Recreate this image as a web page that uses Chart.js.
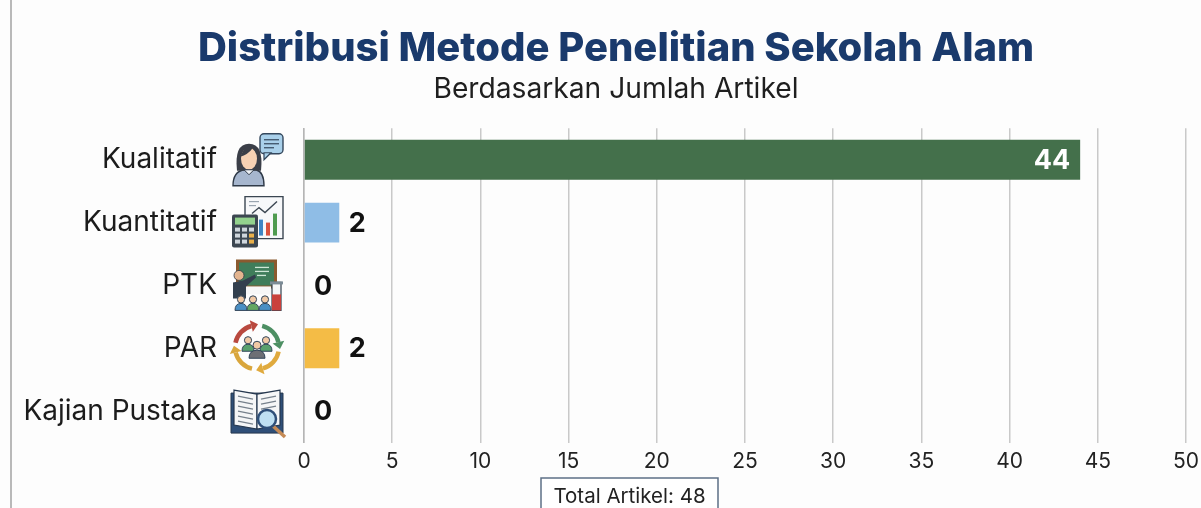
<!DOCTYPE html>
<html><head><meta charset="utf-8">
<style>html,body{margin:0;padding:0;background:#fdfdfd;overflow:hidden}#wrap{width:1201px;height:508px;position:relative}</style>
<script src="https://cdn.jsdelivr.net/npm/chart.js@4/dist/chart.umd.min.js"></script>
</head><body><div id="wrap"><canvas id="c" width="1201" height="508"></canvas></div>
<script>
const categories = ["Kualitatif","Kuantitatif","PTK","PAR","Kajian Pustaka"];
const articleCounts = [44,2,0,2,0];
const barColors = ["#44704b","#8fbde6","#8fbde6","#f4bc46","#8fbde6"];
const xTicks = [0,5,10,15,20,25,30,35,40,45,50];
const titleText = "Distribusi Metode Penelitian Sekolah Alam";
const subtitleText = "Berdasarkan Jumlah Artikel";
const totalText = "Total Artikel: 48";
const FONT = "Inter, 'Open Sans', sans-serif";

function R(c,x,y,w,h,f,s,lw){c.beginPath();c.rect(x,y,w,h);if(f){c.fillStyle=f;c.fill();}if(s){c.strokeStyle=s;c.lineWidth=lw||1;c.stroke();}}
function C(c,x,y,r,f,s,lw){c.beginPath();c.arc(x,y,r,0,Math.PI*2);if(f){c.fillStyle=f;c.fill();}if(s){c.strokeStyle=s;c.lineWidth=lw||1;c.stroke();}}
function L(c,p,s,lw){c.beginPath();p.forEach((q,i)=>i?c.lineTo(q[0],q[1]):c.moveTo(q[0],q[1]));c.strokeStyle=s;c.lineWidth=lw||1;c.stroke();}
function P(c,p,f,s,lw){c.beginPath();p.forEach((q,i)=>i?c.lineTo(q[0],q[1]):c.moveTo(q[0],q[1]));c.closePath();if(f){c.fillStyle=f;c.fill();}if(s){c.strokeStyle=s;c.lineWidth=lw||1;c.stroke();}}
function person(c,x,y,col){C(c,x,y,3.6,"#f1c9a5","#33465a",1);c.beginPath();c.moveTo(x-6,y+11);c.quadraticCurveTo(x-6,y+4,x,y+4);c.quadraticCurveTo(x+6,y+4,x+6,y+11);c.closePath();c.fillStyle=col;c.fill();c.strokeStyle="#33465a";c.lineWidth=1;c.stroke();}

const icons = [
 function(c){
  c.beginPath();c.roundRect(29,1,23,20,4);c.fillStyle="#a9d0ea";c.fill();c.strokeStyle="#34475c";c.lineWidth=1.4;c.stroke();
  P(c,[[33,20],[33,27],[40,20]],"#a9d0ea","#34475c",1.2);
  L(c,[[33,7],[48,7]],"#34475c",1.2);L(c,[[33,11],[48,11]],"#34475c",1.2);L(c,[[33,15],[43,15]],"#34475c",1.2);
  c.beginPath();c.moveTo(2,53);c.quadraticCurveTo(2,39,13,37);c.lineTo(25,37);c.quadraticCurveTo(33,39,33,53);c.closePath();c.fillStyle="#a6b6ce";c.fill();c.strokeStyle="#2f3a48";c.lineWidth=1.4;c.stroke();
  c.beginPath();c.moveTo(6,38);c.quadraticCurveTo(3,11,18,11);c.quadraticCurveTo(33,11,30,38);c.closePath();c.fillStyle="#3b3f48";c.fill();
  c.beginPath();c.ellipse(18,26,8,11,0,0,Math.PI*2);c.fillStyle="#f7d2b4";c.fill();
  c.beginPath();c.moveTo(9,24);c.quadraticCurveTo(17,22,22,15);c.quadraticCurveTo(26,21,27,24);c.lineTo(27,16);c.lineTo(15,13);c.closePath();c.fillStyle="#3b3f48";c.fill();
  P(c,[[13,37],[18,42],[23,37]],"#eef1f5","#2f3a48",1);
 },
 function(c){
  R(c,14,1,38,42,"#f7f8fa","#3b4652",1.4);
  L(c,[[18,6],[28,6]],"#9aa5b0",1.2);L(c,[[18,10],[25,10]],"#9aa5b0",1.2);
  L(c,[[21,18],[28,12],[34,17],[46,6]],"#3b4652",1.4);
  R(c,28,24,4,16,"#3f86c4");R(c,35,27,4,13,"#d9533f");R(c,42,18,4,22,"#4f9b50");
  c.beginPath();c.roundRect(1,19,26,33,2);c.fillStyle="#3c4751";c.fill();
  R(c,4,22,20,7,"#93d28d");
  for(let i=0;i<3;i++)for(let j=0;j<3;j++)R(c,4+j*7,32+i*6,5,4,j==2&&i>0?"#e9b04a":"#cfd6dc");
 },
 function(c){
  R(c,5,1,41,29,"#8a5a2f");R(c,8,4,35,23,"#3f7d5a");
  L(c,[[24,9],[38,9]],"#cfe7d6",1.3);L(c,[[24,13],[38,13]],"#cfe7d6",1.3);L(c,[[26,17],[35,17]],"#cfe7d6",1.3);
  R(c,14,28,26,8,"#f7f7f7");
  C(c,8,17,5,"#e3b48f","#2f3a48",.8);
  P(c,[[2,24],[12,22],[24,16],[25,19],[15,28],[15,40],[2,40]],"#33404e");
  person(c,10,41,"#4a8fc4");person(c,22,41,"#63a661");person(c,34,41,"#4a8fc4");
  R(c,41,24,9,28,"#f4f6f8","#33404e",1.2);R(c,41,36,9,16,"#c9413c");R(c,39,23,13,3,"#7b8b96");
 },
 function(c){
  const arc=(a0,a1,col)=>{c.beginPath();c.arc(26,26,22,a0,a1);c.strokeStyle=col;c.lineWidth=4.5;c.stroke();
   const ax=26+22*Math.cos(a1),ay=26+22*Math.sin(a1),t=a1+Math.PI/2,nx=Math.cos(t),ny=Math.sin(t),px=Math.cos(a1),py=Math.sin(a1);
   P(c,[[ax+nx*7,ay+ny*7],[ax+px*6,ay+py*6],[ax-px*6,ay-py*6]],col);};
  arc(3.35,4.45,"#b9493f");arc(4.95,6.05,"#4d8f63");arc(0.2,1.3,"#e0aa3e");arc(1.8,2.9,"#d9a63c");
  person(c,17,19,"#58a06d");person(c,35,19,"#58a06d");
  C(c,26,24,4,"#f1c9a5","#33465a",1);
  c.beginPath();c.moveTo(18,37);c.quadraticCurveTo(18,29,26,29);c.quadraticCurveTo(34,29,34,37);c.closePath();c.fillStyle="#6d6f75";c.fill();c.strokeStyle="#33465a";c.stroke();
 },
 function(c){
  R(c,0,9,52,40,"#2f4f78","#26384f",1);
  P(c,[[3,6],[26,10],[26,45],[3,41]],"#f5f6f7","#26384f",1.2);
  P(c,[[49,6],[26,10],[26,45],[49,41]],"#f5f6f7","#26384f",1.2);
  for(let i=0;i<6;i++){L(c,[[7,12+i*5],[22,15+i*5]],"#76818c",1.2);if(i<3)L(c,[[30,15+i*5],[45,12+i*5]],"#76818c",1.2);}
  L(c,[[42,42],[54,53]],"#c58a55",3.5);
  C(c,36,35,9,"#bfe0f2","#2f4f78",2.5);
 }
];

const framePlugin = {
 id:"frame",
 afterLayout(ch){ch.boxes.filter(b=>b.fullSize&&b.position==="top").forEach(b=>{b.left+=46;});},
 beforeDraw(ch){const c=ch.ctx;c.save();c.fillStyle="#fdfdfd";c.fillRect(0,0,ch.width,ch.height);L(c,[[11,0],[11,508]],"#b9b9b9",2);c.restore();},
 afterDraw(ch){
  const c=ch.ctx,y=ch.scales.y,x=ch.scales.x;c.save();
  categories.forEach((n,i)=>{c.save();c.translate(231,y.getPixelForValue(i)-27);icons[i](c);c.restore();});
  c.font="700 27px "+FONT;c.textBaseline="middle";
  ch.getDatasetMeta(0).data.forEach((b,i)=>{const v=articleCounts[i];
   if(v>=10){c.fillStyle="#fff";c.textAlign="right";c.fillText(v,b.x-10,b.y+1);}
   else{c.fillStyle="#111";c.textAlign="center";c.fillText(v,x.getPixelForValue(v)+(v?18:19),b.y+1);}
  });
  c.fillStyle="#fff";c.strokeStyle="#5d7086";c.lineWidth=1.5;c.beginPath();c.rect(541,478,177,40);c.fill();c.stroke();
  c.fillStyle="#222";c.font="400 20.5px "+FONT;c.textAlign="center";c.textBaseline="middle";c.fillText(totalText,629.5,497);
  c.restore();
 }
};

new Chart(document.getElementById("c"),{
 type:"bar",
 data:{labels:categories,datasets:[{data:articleCounts,backgroundColor:barColors,barPercentage:0.635,categoryPercentage:1}]},
 plugins:[framePlugin],
 options:{
  indexAxis:"y",responsive:false,animation:false,
  layout:{padding:{left:0,right:15,top:0,bottom:0}},
  plugins:{legend:{display:false},tooltip:{enabled:false},
   title:{display:true,text:titleText,color:"#1a3a6c",font:{family:FONT,size:40,weight:"800"},padding:{top:25,bottom:0}},
   subtitle:{display:true,text:subtitleText,color:"#1f1f1f",font:{family:FONT,size:28.2,weight:"400"},padding:{top:0,bottom:21.5}}},
  scales:{
   x:{type:"linear",min:0,max:50,afterBuildTicks(s){s.ticks=xTicks.map(v=>({value:v}));},
    afterFit(s){s.height=65.5;s.paddingLeft=0;s.paddingRight=0;},
    grid:{color:"#c9c9c9",lineWidth:1.5,drawTicks:false},border:{display:false},
    ticks:{color:"#222",font:{family:FONT,size:21},padding:7,maxRotation:0,autoSkip:false}},
   y:{type:"category",afterFit(s){s.width=304;s.paddingTop=0;s.paddingBottom=0;},
    grid:{display:false},border:{color:"#b5b5b5",width:1.5},
    ticks:{color:"#1c1c1c",font:{family:FONT,size:28},padding:79,autoSkip:false}}
  }
 }
});
</script></body></html>
